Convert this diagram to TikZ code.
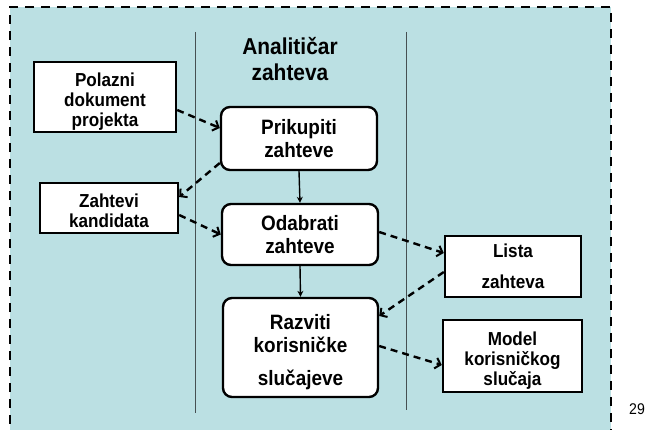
\documentclass[tikz,border=0pt]{standalone}
\usepackage{fontspec}
\setmainfont{Liberation Sans}[FakeStretch=0.91]
\usetikzlibrary{arrows.meta}
\definecolor{lanebg}{RGB}{187,224,227}
\definecolor{laneline}{RGB}{70,80,82}
% invisible strut that raises the height of a first text line
\newcommand{\padtop}[1]{\rule{0pt}{#1}}
\begin{document}
\begin{tikzpicture}[x=1pt,y=-1pt,
  docbox/.style={draw=black, line width=2.4pt, fill=white, align=center,
    inner sep=0pt, font=\bfseries\fontsize{18.8}{20}\selectfont},
  actbox/.style={draw=black, line width=2.4pt, fill=white, align=center,
    rounded corners=9pt, inner sep=0pt, font=\bfseries\fontsize{20.8}{22.5}\selectfont},
  flow/.style={line width=2.4pt, dash pattern=on 7pt off 5pt,
    -{Straight Barb[length=5pt,width=11pt,line width=2pt]}},
  seq/.style={line width=1.4pt, -{Stealth[length=6pt,width=6pt]}},
  lane/.style={draw=laneline, line width=0.8pt},
  frame/.style={line width=2.4pt, dash pattern=on 9pt off 7pt}
]
\useasboundingbox (0,0) rectangle (646,430);

% swimlane background and dashed border
\fill[lanebg] (10,7) rectangle (611,440);
\draw[frame] (10,440) -- (10,7) -- (611,7) -- (611,440);

% lane separators
\draw[lane] (195,32) -- (195,413);
\draw[lane] (406,32) -- (406,410);

% lane title
\node[align=center, font=\bfseries\fontsize{23}{26}\selectfont] (title) at (290,59) {Analitičar\\zahteva};

% documents
\node[docbox, minimum width=142pt, minimum height=70pt] (polazni) at (105,97) {\padtop{22pt}Polazni\\dokument\\projekta};
\node[docbox, minimum width=138pt, minimum height=50pt] (kandidati) at (109,208) {\padtop{20pt}Zahtevi\\kandidata};
\node[docbox, minimum width=136pt, minimum height=61pt] (lista) at (513,266.5) {Lista\\[11pt]zahteva};
\node[docbox, minimum width=139pt, minimum height=72pt] (model) at (512.5,356) {\padtop{22pt}Model\\korisničkog\\slučaja};

% activities
\node[actbox, minimum width=156pt, minimum height=63pt] (prikupiti) at (299,138.5) {Prikupiti\\zahteve};
\node[actbox, minimum width=156pt, minimum height=61pt] (odabrati) at (300,234.5) {Odabrati\\zahteve};
\node[actbox, minimum width=155pt, minimum height=99pt] (razviti) at (300.5,347.5) {\padtop{25pt}Razviti\\korisničke\\[11pt]slučajeve};

% control flow
\draw[seq] (prikupiti.south) -- (odabrati.north);
\draw[seq] (odabrati.south) -- (razviti.north);

% object flow
\draw[flow] ([yshift=-13pt]polazni.east) -- ([yshift=10.5pt]prikupiti.west);
\draw[flow] ([yshift=-24.5pt]prikupiti.west) -- ([yshift=11pt]kandidati.east);
\draw[flow] ([yshift=-7pt]kandidati.east) -- (odabrati.west);
\draw[flow] ([yshift=2.5pt]odabrati.east) -- ([yshift=13.5pt]lista.west);
\draw[flow] ([yshift=-5.5pt]lista.west) -- ([yshift=31.5pt]razviti.east);
\draw[flow] ([yshift=1.5pt]razviti.east) -- ([yshift=-9pt]model.west);

% page number
\node[font=\fontsize{15.5}{18}\selectfont] (page) at (637,409) {29};
\end{tikzpicture}
\end{document}
